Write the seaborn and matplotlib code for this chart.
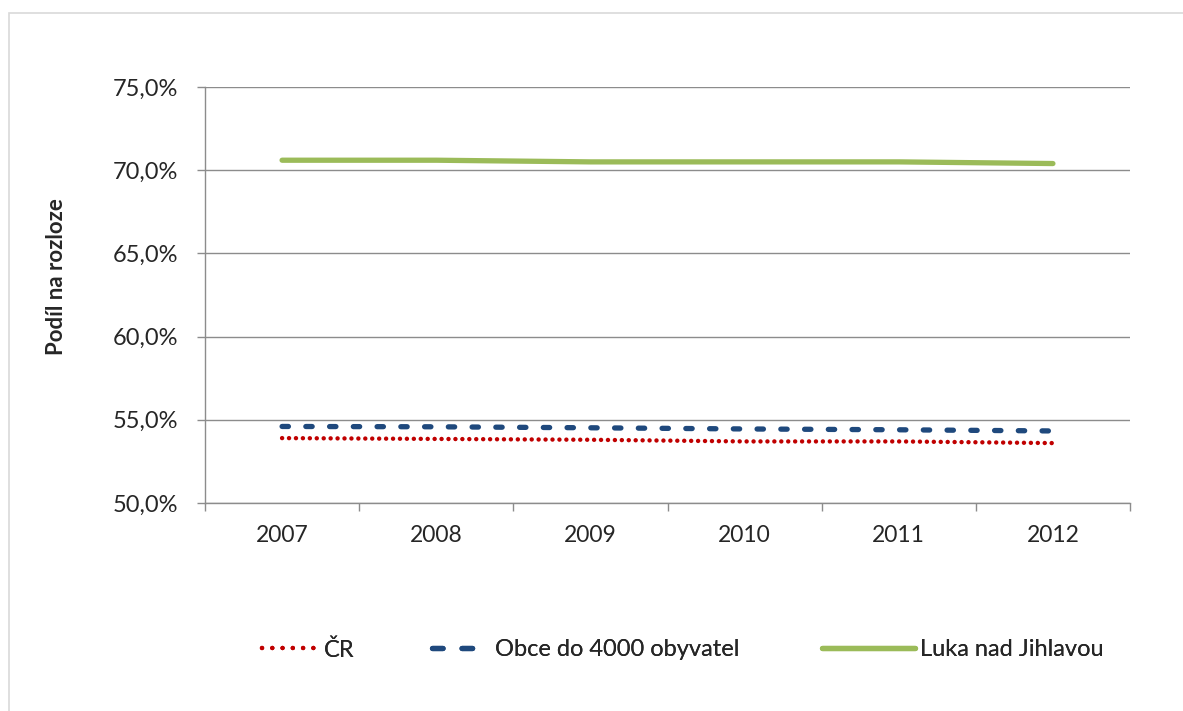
import matplotlib
matplotlib.use("Agg")
import matplotlib.pyplot as plt
import seaborn as sns
import pandas as pd
from matplotlib.patches import Rectangle
from matplotlib.lines import Line2D
from matplotlib.ticker import FixedLocator, FuncFormatter

years = ["2007", "2008", "2009", "2010", "2011", "2012"]
cr = [53.9, 53.85, 53.8, 53.7, 53.7, 53.6]
obce = [54.6, 54.58, 54.52, 54.45, 54.4, 54.33]
luka = [70.6, 70.6, 70.5, 70.5, 70.5, 70.4]
series_names = ["ČR", "Obce do 4000 obyvatel", "Luka nad Jihlavou"]

sns.set_theme(style="white")
plt.rcParams['font.family'] = ['Lato', 'DejaVu Sans']

rows = []
for name, vals in zip(series_names, [cr, obce, luka]):
    for i, (y, v) in enumerate(zip(years, vals)):
        rows.append({"idx": i, "year": y, "value": v, "series": name})
df = pd.DataFrame(rows)

fig = plt.figure(figsize=(11.83, 7.11), dpi=100)
fig.patches.append(Rectangle((9/1183, -0.5), 1.5, 1.5 - 13/711, transform=fig.transFigure,
                             fill=False, edgecolor="#d9d9d9", linewidth=1.2))
ax = fig.add_axes([205/1183, 1 - 503/711, (1130 - 205)/1183, (503 - 87)/711])

colors = {"ČR": "#C00000", "Obce do 4000 obyvatel": "#1F497D", "Luka nad Jihlavou": "#9BBB59"}
styles = {
    "ČR": dict(linewidth=3.2, dashes=(0.01, 1.55), dash_capstyle="round"),
    "Obce do 4000 obyvatel": dict(linewidth=3.8, dashes=(1.2, 3.3), dash_capstyle="round"),
    "Luka nad Jihlavou": dict(linewidth=3.8, solid_capstyle="round"),
}
for name in series_names:
    sub = df[df.series == name]
    st = dict(styles[name])
    dashes = st.pop("dashes", None)
    sns.lineplot(data=sub, x="idx", y="value", ax=ax, color=colors[name],
                 label=name, legend=False, **st)
    l = ax.get_lines()[-1]
    if dashes is not None:
        l.set_dashes(dashes)
        l.set_dash_capstyle(st.get("dash_capstyle", "butt"))

ax.set_xlim(-0.5, 5.5)
ax.set_ylim(50, 75)
ax.set_xticks(range(len(years)))
ax.set_xticklabels(years, fontsize=16.5)
ax.xaxis.set_minor_locator(FixedLocator([i - 0.5 for i in range(len(years) + 1)]))
ax.tick_params(axis="x", which="major", length=0, pad=16)
ax.tick_params(axis="x", which="minor", length=6, color="#8c8c8c", width=1, direction="out", bottom=True)
ax.set_yticks([50, 55, 60, 65, 70, 75])
ax.yaxis.set_major_formatter(FuncFormatter(lambda v, p: f"{v:.1f}%".replace(".", ",")))
ax.tick_params(axis="y", labelsize=17, length=6, color="#8c8c8c", width=1, direction="out", left=True, pad=13)
ax.grid(axis="y", color="#8c8c8c", linewidth=1)
ax.set_axisbelow(True)
for s in ["top", "right"]:
    ax.spines[s].set_visible(False)
for s in ["left", "bottom"]:
    ax.spines[s].set_color("#8c8c8c")
    ax.spines[s].set_linewidth(1)
ax.set_xlabel("")
ax.set_ylabel("")
fig.text(57/1183, 1 - 277/711, "Podíl na rozloze", rotation=90, fontsize=16, fontweight="bold",
         ha="center", va="center")

# legend handles (Excel-like legend keys with their own lengths)
legend_handles = {
    "ČR": Line2D([], [], color=colors["ČR"], linewidth=3.2, dashes=(0.01, 2.3),
                 dash_capstyle="round"),
    "Obce do 4000 obyvatel": Line2D([], [], color=colors["Obce do 4000 obyvatel"], linewidth=3.8,
                                    dashes=(2.0, 3.6), dash_capstyle="round"),
    "Luka nad Jihlavou": Line2D([], [], color=colors["Luka nad Jihlavou"], linewidth=3.8,
                                solid_capstyle="round"),
}
leg_specs = [
    ("ČR", 262, 2.4, 0.2),
    ("Obce do 4000 obyvatel", 432, 2.3, 0.35),
    ("Luka nad Jihlavou", 822, 3.95, 0.2),
]
for name, xpx, hl, pad in leg_specs:
    lg = fig.legend([legend_handles[name]], [name], loc="center left",
                    bbox_to_anchor=(xpx/1183, 1 - 650/711), frameon=False, fontsize=17,
                    handlelength=hl, handletextpad=pad, borderaxespad=0, borderpad=0)
    fig.add_artist(lg)

fig.savefig("out.png", dpi=100)
